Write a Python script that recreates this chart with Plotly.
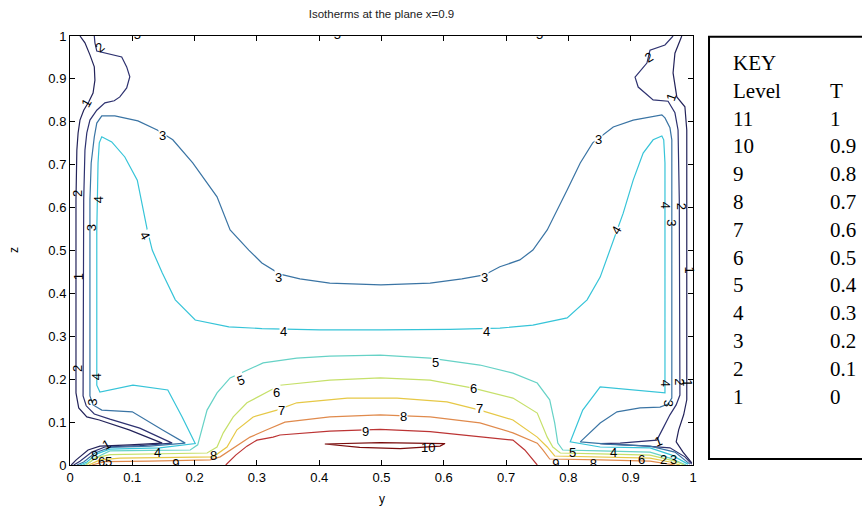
import plotly.graph_objects as go

# ---- key table: contour level index and the temperature it stands for ----
key_level = ["11", "10", "9", "8", "7", "6", "5", "4", "3", "2", "1"]
key_T = ["1", "0.9", "0.8", "0.7", "0.6", "0.5", "0.4", "0.3", "0.2", "0.1", "0"]

# ---- axis ticks ----
tick_vals = [0, 0.1, 0.2, 0.3, 0.4, 0.5, 0.6, 0.7, 0.8, 0.9, 1]
tick_text = ["0", "0.1", "0.2", "0.3", "0.4", "0.5", "0.6", "0.7", "0.8", "0.9", "1"]

# ---- isotherm polylines in (y, z); None splits separate pieces of a level ----
lvl1_y = [0.016, 0.024, 0.032, 0.039, 0.040, 0.037, 0.030, 0.022, 0.016, 0.013, 0.011, 0.0096,
          0.0096, 0.014, 0.027, 0.047, 0.095, 0.148, 0.096, 0.048, 0.029, 0.010, 0.002, None,
          0.982, 0.976, 0.971, 0.968, 0.974, 0.987, 0.990, 0.990, 0.985, 0.977, 0.973, 0.984, 0.998]
lvl1_z = [1.0, 0.984, 0.956, 0.928, 0.897, 0.867, 0.846, 0.827, 0.804, 0.774, 0.734, 0.618,
          0.168, 0.133, 0.112, 0.105, 0.082, 0.051, 0.047, 0.044, 0.035, 0.012, 0.0, None,
          1.0, 0.979, 0.960, 0.914, 0.858, 0.835, 0.781, 0.152, 0.117, 0.082, 0.054, 0.030, 0.005]

lvl2_y = [0.039, 0.040, 0.043, 0.056, 0.083, 0.091, 0.096, 0.091, 0.080, 0.071, 0.056, 0.043,
          0.032, 0.027, 0.024, 0.022, 0.021, 0.026, 0.039, 0.064, 0.112, 0.164, 0.112, 0.056,
          0.035, 0.016, 0.006, None,
          0.968, 0.955, 0.931, 0.926, 0.907, 0.912, 0.936, 0.960, 0.971, 0.976, 0.978, 0.979,
          0.973, 0.963, 0.952, 0.942, 0.883, 0.851, 0.915, 0.963, 0.987, 0.998]
lvl2_z = [1.0, 0.984, 0.965, 0.960, 0.951, 0.928, 0.905, 0.879, 0.858, 0.849, 0.844, 0.827,
          0.804, 0.774, 0.734, 0.618, 0.161, 0.138, 0.119, 0.107, 0.086, 0.051, 0.045, 0.042,
          0.030, 0.009, 0.0, None,
          1.0, 0.979, 0.967, 0.937, 0.904, 0.881, 0.851, 0.848, 0.821, 0.781, 0.618, 0.163,
          0.140, 0.117, 0.086, 0.058, 0.051, 0.050, 0.045, 0.040, 0.019, 0.002]

lvl3_y = [0.011, 0.022, 0.040, 0.064, 0.128, 0.185, 0.148, 0.100, 0.051, 0.037, 0.032, 0.032,
          0.034, 0.039, 0.043, 0.051, 0.072, 0.109, 0.140, 0.165, 0.197, 0.236, 0.257, 0.287,
          0.308, 0.337, 0.369, 0.417, 0.499, 0.578, 0.629, 0.665, 0.690, 0.722, 0.743, 0.766,
          0.798, 0.819, 0.839, 0.872, 0.904, 0.950, 0.955, 0.963, 0.966, 0.966, 0.966, 0.960,
          0.947, 0.915, 0.878, 0.851, 0.819, 0.867, 0.931, 0.971, 0.995]
lvl3_z = [0.0, 0.007, 0.028, 0.041, 0.044, 0.051, 0.082, 0.124, 0.128, 0.140, 0.161, 0.618,
          0.704, 0.765, 0.797, 0.814, 0.814, 0.802, 0.781, 0.758, 0.704, 0.625, 0.548, 0.501,
          0.471, 0.445, 0.434, 0.424, 0.420, 0.424, 0.434, 0.443, 0.462, 0.478, 0.501, 0.548,
          0.641, 0.704, 0.751, 0.788, 0.804, 0.816, 0.809, 0.786, 0.758, 0.704, 0.156, 0.142,
          0.135, 0.133, 0.124, 0.098, 0.054, 0.048, 0.044, 0.030, 0.002]

lvl4_y = [0.016, 0.027, 0.043, 0.064, 0.144, 0.201, 0.180, 0.157, 0.101, 0.048, 0.043, 0.043,
          0.045, 0.047, 0.051, 0.067, 0.088, 0.108, 0.124, 0.132, 0.148, 0.169, 0.201, 0.255,
          0.308, 0.401, 0.499, 0.610, 0.690, 0.743, 0.798, 0.830, 0.851, 0.867, 0.888, 0.904,
          0.920, 0.936, 0.950, 0.953, 0.955, 0.955, 0.907, 0.851, 0.823, 0.803, 0.851, 0.931,
          0.966, 0.992]
lvl4_z = [0.0, 0.007, 0.026, 0.037, 0.040, 0.050, 0.112, 0.175, 0.186, 0.170, 0.186, 0.548,
          0.704, 0.751, 0.765, 0.753, 0.718, 0.664, 0.548, 0.501, 0.448, 0.385, 0.338, 0.322,
          0.318, 0.315, 0.315, 0.316, 0.319, 0.326, 0.343, 0.385, 0.438, 0.501, 0.587, 0.664,
          0.727, 0.758, 0.767, 0.758, 0.704, 0.168, 0.175, 0.182, 0.128, 0.054, 0.042, 0.040,
          0.023, 0.002]

lvl5_y = [0.021, 0.032, 0.047, 0.064, 0.128, 0.193, 0.205, 0.212, 0.220, 0.236, 0.257, 0.310,
          0.364, 0.417, 0.498, 0.578, 0.658, 0.711, 0.750, 0.770, 0.778, 0.783, 0.791, 0.851,
          0.931, 0.963, 0.989]
lvl5_z = [0.0, 0.007, 0.021, 0.033, 0.034, 0.035, 0.047, 0.082, 0.128, 0.168, 0.203, 0.238,
          0.249, 0.254, 0.256, 0.249, 0.233, 0.214, 0.191, 0.152, 0.098, 0.051, 0.035, 0.033,
          0.030, 0.016, 0.0]

lvl6_y = [0.026, 0.040, 0.064, 0.128, 0.220, 0.236, 0.246, 0.262, 0.284, 0.337, 0.417, 0.498,
          0.578, 0.647, 0.711, 0.750, 0.766, 0.775, 0.787, 0.851, 0.931, 0.971, 0.986]
lvl6_z = [0.0, 0.016, 0.024, 0.026, 0.028, 0.042, 0.075, 0.112, 0.145, 0.186, 0.198, 0.203,
          0.198, 0.179, 0.156, 0.121, 0.065, 0.042, 0.028, 0.026, 0.023, 0.009, 0.0]

lvl7_y = [0.030, 0.048, 0.080, 0.144, 0.230, 0.252, 0.268, 0.294, 0.332, 0.364, 0.445, 0.525,
          0.605, 0.658, 0.711, 0.750, 0.766, 0.778, 0.851, 0.931, 0.963, 0.979]
lvl7_z = [0.0, 0.012, 0.016, 0.017, 0.019, 0.042, 0.082, 0.112, 0.128, 0.145, 0.156, 0.156,
          0.147, 0.128, 0.105, 0.065, 0.042, 0.021, 0.019, 0.016, 0.007, 0.0]

lvl8_y = [0.035, 0.056, 0.128, 0.225, 0.241, 0.257, 0.289, 0.316, 0.345, 0.417, 0.498, 0.578,
          0.658, 0.711, 0.750, 0.759, 0.770, 0.851, 0.931, 0.971]
lvl8_z = [0.0, 0.008, 0.009, 0.012, 0.019, 0.035, 0.065, 0.082, 0.100, 0.112, 0.117, 0.112,
          0.098, 0.075, 0.051, 0.035, 0.014, 0.012, 0.009, 0.0]

lvl9_y = [0.250, 0.266, 0.284, 0.300, 0.326, 0.337, 0.417, 0.498, 0.578, 0.658, 0.711, 0.730, 0.750]
lvl9_z = [0.0, 0.023, 0.044, 0.058, 0.065, 0.070, 0.079, 0.083, 0.078, 0.066, 0.058, 0.035, 0.0]

lvl10_y = [0.409, 0.498, 0.602, 0.594, 0.530, 0.465, 0.409]
lvl10_z = [0.049, 0.052, 0.050, 0.044, 0.038, 0.041, 0.049]

# ---- in-line contour labels ----
label_txt = ["1", "1", "1", "1", "1", "1", "1",
             "2", "2", "2", "2", "2", "2", "2",
             "3", "3", "3", "3", "3", "3", "3", "3", "3",
             "4", "4", "4", "4", "4", "4", "4", "4", "4", "4",
             "5", "5", "5", "5",
             "6", "6", "6", "6",
             "7", "7",
             "8", "8", "8",
             "9", "10"]
label_y = [0.027, 0.013, 0.059, 0.966, 0.994, 0.944, 0.992,
           0.047, 0.013, 0.011, 0.928, 0.981, 0.979, 0.952,
           0.148, 0.335, 0.665, 0.848, 0.034, 0.037, 0.966, 0.960, 0.968,
           0.120, 0.343, 0.668, 0.878, 0.047, 0.042, 0.957, 0.957, 0.141, 0.872,
           0.273, 0.586, 0.806, 0.061,
           0.332, 0.647, 0.918, 0.050,
           0.340, 0.658,
           0.535, 0.230, 0.039,
           0.474, 0.575]
label_z = [0.844, 0.438, 0.047, 0.858, 0.455, 0.054, 0.193,
           0.974, 0.632, 0.226, 0.951, 0.604, 0.193, 0.012,
           0.767, 0.438, 0.438, 0.758, 0.552, 0.145, 0.564, 0.145, 0.012,
           0.534, 0.312, 0.312, 0.548, 0.618, 0.205, 0.606, 0.191, 0.028, 0.028,
           0.198, 0.240, 0.030, 0.009,
           0.170, 0.179, 0.012, 0.009,
           0.128, 0.131,
           0.112, 0.021, 0.021,
           0.077, 0.040]
label_rot = [-60, -90, -30, -70, 90, -20, 90,
             -40, -90, -90, -30, 90, 90, 0,
             0, 0, 0, 0, -90, -90, 90, 90, 0,
             60, 0, 0, -60, -90, -90, 90, 90, 0, 0,
             -20, 0, 0, 0,
             0, 0, 0, 0,
             0, 0,
             0, 0, 0,
             0, 0]
label_gap = [False] * 14 + [True, True, True, True, False, False, False, False, False,
                            True, True, True, True, False, False, False, False, False, False,
                            True, True, False, False, True, True, False, False, True, True,
                            True, False, False, True, False]

# labels cut by the plot frame
edge_txt = ["5", "5", "5", "9", "9", "8"]
edge_y = [0.108, 0.429, 0.754, 0.170, 0.780, 0.840]
edge_z = [1.0, 1.0, 1.0, 0.0, 0.0, 0.0]

levels = [
    (lvl1_y, lvl1_z, "#23235a"),
    (lvl2_y, lvl2_z, "#2e3270"),
    (lvl3_y, lvl3_z, "#3a74a4"),
    (lvl4_y, lvl4_z, "#36c4d8"),
    (lvl5_y, lvl5_z, "#66d2c6"),
    (lvl6_y, lvl6_z, "#c6e06a"),
    (lvl7_y, lvl7_z, "#e6c846"),
    (lvl8_y, lvl8_z, "#e08a4c"),
    (lvl9_y, lvl9_z, "#bc3434"),
    (lvl10_y, lvl10_z, "#7a0c0c"),
]

fig = go.Figure()
for ys, zs, col in levels:
    fig.add_trace(go.Scatter(x=ys, y=zs, mode="lines", line=dict(color=col, width=1.2),
                             connectgaps=False, hoverinfo="skip", showlegend=False))

fig.add_trace(go.Scatter(x=edge_y, y=edge_z, mode="text", text=edge_txt,
                         textfont=dict(family="Liberation Sans", size=13, color="black"),
                         cliponaxis=True, hoverinfo="skip", showlegend=False))

annotations = []
for t, yy, zz, rot, gap in zip(label_txt, label_y, label_z, label_rot, label_gap):
    annotations.append(dict(x=yy, y=zz, xref="x", yref="y", text=t, showarrow=False,
                            textangle=rot, borderpad=0,
                            bgcolor="white" if gap else "rgba(0,0,0,0)",
                            font=dict(family="Liberation Sans", size=13, color="black")))

# axis titles
annotations.append(dict(x=0.5, y=-0.1, xref="paper", yref="paper", text="y", showarrow=False,
                        font=dict(family="Liberation Sans", size=12, color="black")))
annotations.append(dict(x=-0.105, y=0.5, xref="paper", yref="paper", text="z", showarrow=False,
                        textangle=-90, font=dict(family="Liberation Sans", size=12, color="black")))

# key table beside the plot
key_rows = ["KEY", "Level"] + key_level
key_rows2 = ["", "T"] + key_T
for i, (a, b) in enumerate(zip(key_rows, key_rows2)):
    ypix = 63 + 27.8 * i
    yp = (465 - ypix) / 429
    annotations.append(dict(x=1.0615, y=yp, xref="paper", yref="paper", text=a, showarrow=False,
                            xanchor="left", yanchor="middle",
                            font=dict(family="Liberation Serif", size=21, color="black")))
    if b:
        annotations.append(dict(x=1.2167, y=yp, xref="paper", yref="paper", text=b,
                                showarrow=False, xanchor="left", yanchor="middle",
                                font=dict(family="Liberation Serif", size=21, color="black")))

fig.update_layout(
    width=862, height=509,
    margin=dict(l=70, r=169, t=36, b=44),
    paper_bgcolor="white", plot_bgcolor="white",
    title=dict(text="Isotherms at the plane x=0.9", x=0.5, xref="paper", xanchor="center",
               y=1 - 14 / 509, yref="container", yanchor="middle",
               font=dict(family="Liberation Sans", size=11.5, color="#222222")),
    annotations=annotations,
    shapes=[dict(type="rect", xref="paper", yref="paper", x0=1.0257, x1=1.35, y0=0.014, y1=0.998,
                 line=dict(color="black", width=2), fillcolor="rgba(0,0,0,0)", layer="above")],
    showlegend=False,
)
axis_common = dict(range=[0, 1], tickvals=tick_vals, ticktext=tick_text, showgrid=False,
                   zeroline=False, showline=True, linecolor="black", linewidth=1, mirror="ticks",
                   ticks="inside", ticklen=5, tickcolor="black",
                   tickfont=dict(family="Liberation Sans", size=13, color="black"))
fig.update_xaxes(**axis_common)
fig.update_yaxes(**axis_common)

fig.write_html("out.html")
